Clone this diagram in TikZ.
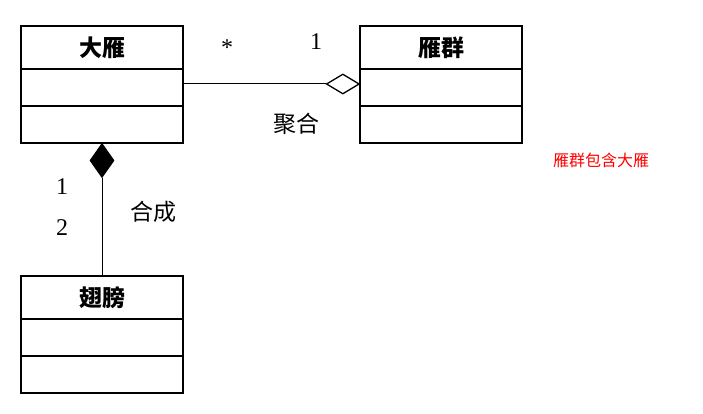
\documentclass[tikz,border=0pt]{standalone}
\usepackage{fontspec}
\setmainfont{Liberation Serif}
\newfontfamily\cjk{Noto Sans CJK SC}
\usepackage{xcolor}
\usetikzlibrary{shapes.geometric}

\begin{document}
\begin{tikzpicture}[
    x=1pt, y=-1pt,
    part/.style={
        rectangle, draw=black, line width=1.4pt,
        minimum width=162pt, minimum height=37pt,
        inner sep=0pt, outer sep=0pt,
    },
    classname/.style={part, minimum height=43pt, font=\fontsize{23}{25}\selectfont\cjk\bfseries},
    link/.style={draw=black, line width=1pt},
    agg/.style={diamond, draw=black, fill=white, line width=1.3pt, aspect=1.6,
        minimum width=33pt, minimum height=20pt, inner sep=0pt},
    comp/.style={diamond, draw=black, fill=black, line width=1pt, aspect=0.7,
        minimum width=24pt, minimum height=34pt, inner sep=0pt},
    lbl/.style={font=\fontsize{23}{25}\selectfont\cjk, inner sep=0pt},
    mult/.style={font=\fontsize{24}{26}\selectfont, inner sep=0pt},
]
\useasboundingbox (0,0) rectangle (703,414);

% CLASS: GOOSE
\node[classname] (goosename) at (102,47.5) {大雁};
\node[part] (gooseattr) at (102,87.5) {};
\node[part] (gooseops) at (102,124.5) {};

% CLASS: FLOCK
\node[classname] (flockname) at (441,47.5) {雁群};
\node[part] (flockattr) at (441,87.5) {};
\node[part] (flockops) at (441,124.5) {};

% CLASS: WING
\node[classname] (wingname) at (102,297.5) {翅膀};
\node[part] (wingattr) at (102,337.5) {};
\node[part] (wingops) at (102,374.5) {};

% AGGREGATION
\node[agg, anchor=east] (aggtip) at (360,84) {};
\draw[link] (aggtip.west) -- (aggtip.west -| gooseattr.east);
\node[mult] (aggmany) at (227,48) {*};
\node[mult] (aggone) at (316,42) {1};
\node[lbl] (agglabel) at (296,124) {聚合};

% COMPOSITION
\node[comp, anchor=north] (comptip) at (gooseops.south) {};
\draw[link] (comptip.south) -- (wingname.north);
\node[mult] (compone) at (62,187) {1};
\node[mult] (comptwo) at (62,228) {2};
\node[lbl] (complabel) at (153,212) {合成};

% NOTE
\node[font=\fontsize{16}{18}\selectfont\cjk, text=red, inner sep=0pt] (note) at (601,160) {雁群包含大雁};

\end{tikzpicture}
\end{document}
